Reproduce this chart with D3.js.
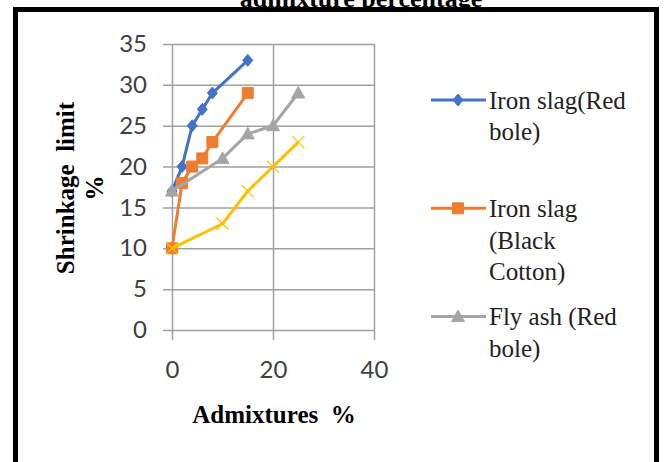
<!doctype html>
<html lang="en">
<head>
<meta charset="utf-8" />
<title>Shrinkage limit vs admixture percentage</title>
<script src="https://d3js.org/d3.v7.min.js"></script>
<style>
  html, body { margin: 0; padding: 0; background: #fff; overflow: hidden; }
  #chart { width: 664px; height: 462px; }
  .tick text { font-family: Lato, "Open Sans", sans-serif; font-size: 24px; fill: #404040; }
  .titre { font-family: "Liberation Serif", "DejaVu Serif", serif; font-weight: bold; fill: #000; white-space: pre; }
  .leg { font-family: "Liberation Serif", "DejaVu Serif", serif; font-size: 25px; fill: #222; }
</style>
</head>
<body>
<div id="chart"></div>
<script>
// donnees
var xTicks = [0, 20, 40];
var yTicks = [0, 5, 10, 15, 20, 25, 30, 35];
var seriesNames = ["Iron slag(Red bole)", "Iron slag (Black Cotton)", "Fly ash (Red bole)", "Fly ash (Black Cotton)"];
var ironRedX = [0, 2, 4, 6, 8, 15];
var ironRedY = [17, 20, 25, 27, 29, 33];
var ironBlackX = [0, 2, 4, 6, 8, 15];
var ironBlackY = [10, 18, 20, 21, 23, 29];
var flyRedX = [0, 10, 15, 20, 25];
var flyRedY = [17, 21, 24, 25, 29];
var flyBlackX = [0, 10, 15, 20, 25];
var flyBlackY = [10, 13, 17, 20, 23];
// texte de la legende (coupee en lignes comme sur l'image)
var legendLines = [["Iron slag(Red", "bole)"], ["Iron slag", "(Black", "Cotton)"], ["Fly ash (Red", "bole)"]];

var couleurs = ["#4472c4", "#ed7d31", "#a5a5a5", "#ffc000"];
var marqueurs = [
  "M0,-6L5,0L0,6L-5,0Z",        // losange
  "M-5.5,-5.5H5.5V5.5H-5.5Z",   // carre
  "M0,-6.5L6.5,5L-6.5,5Z",      // triangle
  "M-6,-6L6,6M-6,6L6,-6"        // croix
];

var series = [
  {x: ironRedX, y: ironRedY},
  {x: ironBlackX, y: ironBlackY},
  {x: flyRedX, y: flyRedY},
  {x: flyBlackX, y: flyBlackY}
].map(function(s, i) {
  return {nom: seriesNames[i], pts: s.x.map(function(v, j) { return [v, s.y[j]]; })};
});

var svg = d3.select("#chart").append("svg").attr("width", 664).attr("height", 462);

var x = d3.scaleLinear().domain([0, 40]).range([172, 374]);
var y = d3.scaleLinear().domain([0, 35]).range([330, 44]);

// titre coupe en haut (comme sur l'image d'origine)
svg.append("text").attr("class", "titre").attr("x", 361).attr("y", 7)
  .attr("text-anchor", "middle").style("font-size", "26px").text("admixture percentage");

// cadre
svg.append("rect").attr("x", 15.5).attr("y", 9.5).attr("width", 641).attr("height", 480)
  .attr("fill", "none").attr("stroke", "#000").attr("stroke-width", 5);

// axes + grille
var ga = svg.append("g").attr("transform", "translate(163,0)")
  .call(d3.axisLeft(y).tickValues(yTicks).tickSize(-211).tickPadding(16));
var gb = svg.append("g").attr("transform", "translate(0,340)")
  .call(d3.axisBottom(x).tickValues(xTicks).tickSize(-296).tickPadding(21));
[ga, gb].forEach(function(g) {
  g.select(".domain").remove();
  g.selectAll(".tick line").attr("stroke", "#a0a0a0").attr("stroke-width", 1.5);
});

// courbes
var ligne = d3.line().x(function(d) { return x(d[0]); }).y(function(d) { return y(d[1]); });
series.forEach(function(s, i) {
  var g = svg.append("g");
  g.append("path").attr("d", ligne(s.pts)).attr("fill", "none")
    .attr("stroke", couleurs[i]).attr("stroke-width", 3).attr("stroke-linejoin", "round");
  g.selectAll("path.m").data(s.pts).enter().append("path").attr("class", "m")
    .attr("transform", function(d) { return "translate(" + x(d[0]) + "," + y(d[1]) + ")"; })
    .attr("d", marqueurs[i])
    .attr("fill", i == 3 ? "none" : couleurs[i])
    .attr("stroke", couleurs[i]).attr("stroke-width", i == 3 ? 1.2 : 1);
});

// titres des axes
svg.append("text").attr("class", "titre").attr("x", 274).attr("y", 423)
  .attr("text-anchor", "middle").style("font-size", "25px").text("Admixtures  %");
var ty = svg.append("text").attr("class", "titre").attr("transform", "translate(0,188) rotate(-90)")
  .attr("text-anchor", "middle").style("font-size", "25px");
ty.append("tspan").attr("x", 0).attr("y", 74).text("Shrinkage  limit");
ty.append("tspan").attr("x", 0).attr("y", 103).text("%");

// legende
legendLines.forEach(function(lignes, i) {
  var ly = 100 + i * 108.3;
  var g = svg.append("g");
  g.append("line").attr("x1", 431).attr("x2", 486).attr("y1", ly).attr("y2", ly)
    .attr("stroke", couleurs[i]).attr("stroke-width", 3);
  g.append("path").attr("transform", "translate(458," + ly + ")").attr("d", marqueurs[i])
    .attr("fill", couleurs[i]).attr("stroke", couleurs[i]);
  var t = g.append("text").attr("class", "leg");
  lignes.forEach(function(l, k) {
    t.append("tspan").attr("x", 489).attr("y", ly + 8.5 + k * 31.7).text(l);
  });
});
</script>
</body>
</html>
